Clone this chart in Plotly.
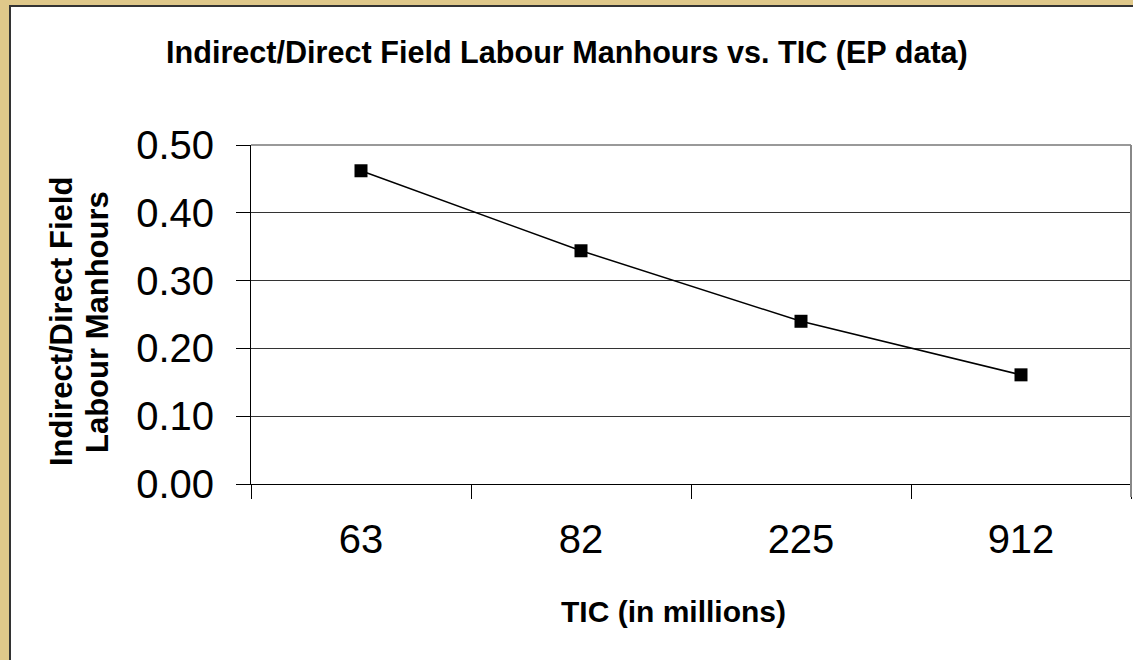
import plotly.graph_objects as go

categories = ["63", "82", "225", "912"]
values = [0.462, 0.344, 0.240, 0.161]
y_ticks = [0.0, 0.1, 0.2, 0.3, 0.4, 0.5]

W, H = 1133, 660
L, R, T, B = 251, 1131, 145, 484


def px(x):
    return (x - L) / (R - L)


def py(y):
    return (B - y) / (B - T)


FONT = "Liberation Sans, Arial, sans-serif"

fig = go.Figure()
fig.add_trace(go.Scatter(
    x=categories, y=values, mode="lines+markers",
    line=dict(color="black", width=1.5),
    marker=dict(symbol="square", size=13, color="black"),
    showlegend=False,
))

shapes = [
    dict(type="rect", xref="paper", yref="paper", layer="below",
         x0=px(10), x1=px(1145), y0=py(6), y1=py(675),
         fillcolor="white", line=dict(color="#333333", width=2)),
    dict(type="line", xref="paper", yref="paper", layer="above",
         x0=0, x1=1, y0=1, y1=1, line=dict(color="#999999", width=2)),
    dict(type="line", xref="paper", yref="paper", layer="above",
         x0=1, x1=1, y0=py(497), y1=1, line=dict(color="#888888", width=2)),
]

annotations = [
    dict(text="<b>Indirect/Direct Field Labour Manhours vs. TIC (EP data)</b>",
         xref="paper", yref="paper", x=px(567), y=py(52), showarrow=False,
         xanchor="center", yanchor="middle", font=dict(size=30.6, color="black", family=FONT)),
    dict(text="<b>Indirect/Direct Field</b>",
         xref="paper", yref="paper", x=px(61), y=py(322), showarrow=False,
         textangle=-90, xanchor="center", yanchor="middle",
         font=dict(size=31, color="black", family=FONT)),
    dict(text="<b>Labour Manhours</b>",
         xref="paper", yref="paper", x=px(97), y=py(322), showarrow=False,
         textangle=-90, xanchor="center", yanchor="middle",
         font=dict(size=31, color="black", family=FONT)),
    dict(text="<b>TIC (in millions)</b>",
         xref="paper", yref="paper", x=px(673), y=py(611), showarrow=False,
         xanchor="center", yanchor="middle", font=dict(size=30, color="black", family=FONT)),
]

fig.update_layout(
    width=W, height=H,
    margin=dict(l=L, r=W - R, t=T, b=H - B, pad=0),
    paper_bgcolor="#DFC88A",
    plot_bgcolor="white",
    font=dict(family=FONT, color="black"),
    shapes=shapes,
    annotations=annotations,
    xaxis=dict(
        type="category", range=[-0.5, 3.5], tickson="boundaries",
        ticks="outside", ticklen=14, tickcolor="black", tickwidth=1,
        showline=True, linecolor="black", linewidth=1,
        showgrid=False, tickfont=dict(size=40, color="black", family=FONT),
        ticklabelstandoff=20, fixedrange=True,
    ),
    yaxis=dict(
        range=[0, 0.5], tickvals=y_ticks, tickformat=".2f",
        ticks="outside", ticklen=14, tickcolor="black", tickwidth=1,
        showline=True, linecolor="black", linewidth=1,
        showgrid=True, gridcolor="#333333", gridwidth=1, zeroline=False,
        tickfont=dict(size=40, color="black", family=FONT),
        ticklabelstandoff=14, fixedrange=True,
    ),
)

fig.write_html(
    "out.html",
    config={"displayModeBar": False},
    post_script="document.body.style.margin='0';document.body.style.overflow='hidden';",
)
